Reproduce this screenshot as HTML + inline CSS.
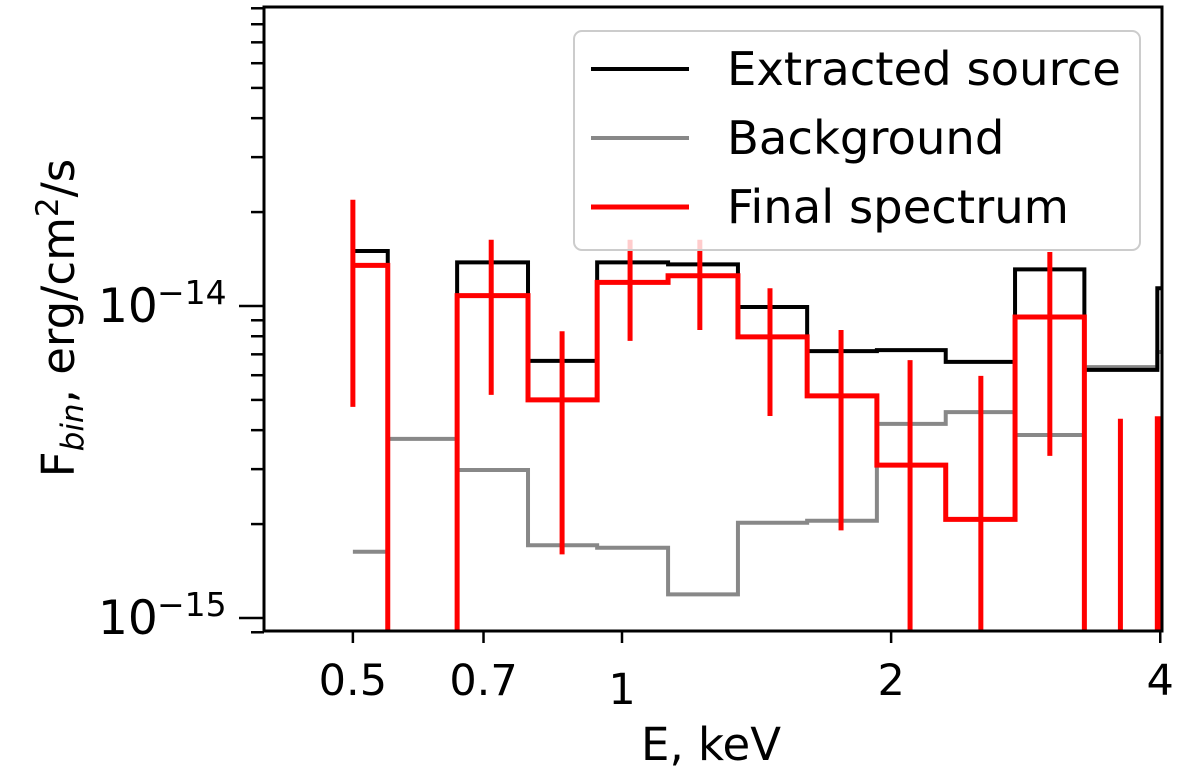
<!DOCTYPE html>
<html><head><meta charset="utf-8"><style>
html,body{margin:0;padding:0;background:#fff;width:1200px;height:780px;overflow:hidden;}
svg{display:block;font-family:"DejaVu Sans","Liberation Sans",sans-serif;}
</style></head><body>
<svg id="chart" width="1200" height="780" viewBox="0 0 1200 780" xmlns="http://www.w3.org/2000/svg" overflow="hidden">
<g id="plot"></g>
<g id="axes"></g>
<g>
  <rect x="574" y="31" width="566" height="219" rx="8" fill="#fff" fill-opacity="0.8" stroke="#ccc" stroke-width="2"/>
  <line x1="591" y1="69" x2="689" y2="69" stroke="#000" stroke-width="4"/>
  <text x="727" y="85" font-size="46.5">Extracted source</text>
  <line x1="591" y1="138" x2="689" y2="138" stroke="#888" stroke-width="4"/>
  <text x="727" y="154" font-size="46.5">Background</text>
  <line x1="591" y1="207" x2="689" y2="207" stroke="#f00" stroke-width="5"/>
  <text x="727" y="223" font-size="46.5">Final spectrum</text>
</g>
<text x="711" y="760" font-size="45" text-anchor="middle">E, keV</text>
<text transform="translate(74,318) rotate(-90)" font-size="45" text-anchor="middle">F<tspan font-size="31" font-style="italic" dy="9">bin</tspan><tspan dy="-9">, erg/cm</tspan><tspan font-size="31" dy="-16">2</tspan><tspan dy="16">/s</tspan></text>
</svg>
<script>
// Data (flux in units of 1e-15 erg/cm2/s; null = off-chart)
const binEdges = [0.5, 0.547, 0.654, 0.785, 0.938, 1.126, 1.348, 1.611, 1.928, 2.302, 2.752, 3.29, 3.97, 4.05];
const sourceFlux = [15.0, null, 13.8, 6.67, 13.8, 13.6, 9.93, 7.17, 7.22, 6.62, 13.1, 6.24, 11.4];
const backgroundFlux = [1.63, 3.75, 2.98, 1.71, 1.68, 1.19, 2.02, 2.05, 4.19, 4.57, 3.86, 6.37, 7.12];
const finalFlux = [13.5, null, 10.8, 5.0, 11.9, 12.5, 7.96, 5.15, 3.09, 2.07, 9.22, null, 4.35];
const errE = [0.5, 0.714, 0.857, 1.021, 1.222, 1.464, 1.758, 2.10, 2.52, 3.01, 3.61, 3.99];
const errHigh = [21.9, 16.3, 8.3, 16.3, 16.3, 11.4, 8.38, 6.71, 5.97, 14.9, 4.35, 4.35];
const errLow = [4.75, 5.19, 1.60, 7.73, 8.38, 4.44, 1.91, 0.1, 0.1, 3.31, 0.1, 0.1];
const xTicks = [0.5, 0.7, 1, 2, 4];
const xTickLabels = ["0.5", "0.7", "1", "2", "4"];
const yMajor = [1, 10];
const yMajorExp = ["\u221215", "\u221214"];

const L=264,R=1162,T=7,B=631;
const xs = e => 622 + 894*Math.log10(e);
const ys = v => 306 - 312*Math.log10(v/10);
const NS="http://www.w3.org/2000/svg";
const plot=document.getElementById('plot'), axes=document.getElementById('axes');
function mk(tag,attrs,parent){const el=document.createElementNS(NS,tag);for(const k in attrs)el.setAttribute(k,attrs[k]);parent.appendChild(el);return el;}
const clip=mk('clipPath',{id:'cp'},plot);mk('rect',{x:L,y:T,width:R-L,height:B-T},clip);
const g=mk('g',{'clip-path':'url(#cp)'},plot);
function stepPath(vals){
  let d='';
  for(let i=0;i<vals.length;i++){
    const x0=xs(binEdges[i]),x1=xs(binEdges[i+1]);
    const y=vals[i]==null?B+10:ys(vals[i]);
    d+=(i===0?'M':'L')+x0+' '+y;
    d+='L'+x1+' '+y;
  }
  return d;
}
function drawSeries(vals,color,w,name){
  const p=mk('path',{d:stepPath(vals),fill:'none',stroke:color,'stroke-width':w},g);
  
  
}
drawSeries(backgroundFlux,'#888',4,'background-line');
drawSeries(sourceFlux,'#000',4,'source-line');
drawSeries(finalFlux,'#f00',5,'final-spectrum-line');
for(let i=0;i<errE.length;i++){
  const l=mk('line',{x1:xs(errE[i]),x2:xs(errE[i]),y1:ys(errHigh[i]),y2:Math.min(ys(errLow[i]),B+10),stroke:'#f00','stroke-width':5},g);
  
  
}
const fr=mk('rect',{x:L,y:T,width:R-L,height:B-T,fill:'none',stroke:'#000','stroke-width':3},axes);


xTicks.forEach((t,i)=>{
  const x=xs(t);
  mk('line',{x1:x,x2:x,y1:B,y2:B+12,stroke:'#000','stroke-width':2.5},axes);
  const tx=mk('text',{x:x,y:t===1?704:695,'font-size':43,'text-anchor':'middle'},axes);
  tx.textContent=xTickLabels[i];
  
  
});
for(let dec=0.1;dec<=10.01;dec*=10){
  for(let m=1;m<10;m++){
    const v=dec*m, y=ys(v);
    if(y<T-1||y>B+2)continue;
    const major=(m===1);
    mk('line',{x1:L-(major?25:13),x2:L,y1:y,y2:y,stroke:'#000','stroke-width':2.5},axes);
  }
}
yMajor.forEach((v,i)=>{
  const y=ys(v);
  const tx=mk('text',{x:98,y:y+16,'font-size':47},axes);
  tx.textContent='10';
  
  
  const ex=mk('text',{x:157,y:y-2,'font-size':33},axes);
  ex.textContent=yMajorExp[i];
  
  
});
</script>
</body></html>
